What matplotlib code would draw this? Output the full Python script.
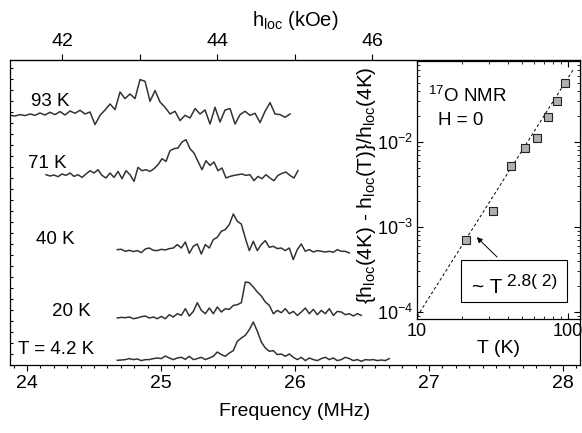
import numpy as np
import matplotlib
matplotlib.use("Agg")
import matplotlib.pyplot as plt
from matplotlib.ticker import MultipleLocator, FixedLocator, NullFormatter
from matplotlib.patches import Rectangle

plt.rcParams['font.family'] = ['Liberation Sans', 'DejaVu Sans']
plt.rcParams['mathtext.fontset'] = 'custom'
plt.rcParams['mathtext.rm'] = 'Liberation Sans'
plt.rcParams['mathtext.it'] = 'Liberation Sans:italic'
plt.rcParams['mathtext.sf'] = 'Liberation Sans'
plt.rcParams['mathtext.default'] = 'regular'

# 17O gyromagnetic ratio, MHz per kOe
GAMMA = 0.5777

# spectra: (label, first freq, last freq, intensity)
labels = ['93 K', '71 K', '40 K', '20 K', 'T = 4.2 K']
f_start = [23.873, 24.142, 24.674, 24.674, 24.674]
f_end = [25.963, 26.022, 26.405, 26.495, 26.704]

spec_93 = [0, -0.7, 0.7, -0.3, 1.3, 0, 2.3, 0.3, 3, 0.7,
           3.7, 0.3, 4.3, 2, 5, 1.3, 3.3, -9.3, 0, 5.3,
           11.3, 5.7, 23.3, 16.7, 21.3, 16.7, 35.7, 34, 14, 24.7,
           13.3, 8, 1.3, 4, -5.3, 0, -2.7, 6.7, 1.3, 5.3,
           -8.7, 8, -6.7, 5.3, 6.7, -8.7, 0.7, 4, 0, 2,
           -7.3, 4, 12.7, 1.3, 0.7, -2, 1.3]
spec_71 = [0, -1.3, -0.3, -2, 0.7, -0.7,
           1.7, -1.7, 0, -2.7, 0.7, 4, 1.7, 5, -0.7, -3.3,
           1.7, -2.7, 3.3, -4, 4, 0, -6.7, 7.3, 4, 5,
           3.3, 6, 10, 16, 13.3, 24, 26, 26.7, 32.7, 35,
           26, 21.7, 13.3, 5, 14, 9.3, 12.7, 4, 6.7, -3.3,
           -1.7, -0.7, 0, 0.7, -0.7, 0, -6, -1.7, -4, 0,
           -3.3, -6, -0.7, 1.3, 2.7, -0.7, -3.3, 4]
spec_40 = [0.7, 1, -1, 0, -1.3, -0.3, -2.3, 1.3, 2.3, 0,
           -0.3, 1, 0.3, 1.7, 2.3, 5.7, 2.3, 8.3, -3, 4,
           6.3, -3.7, 5.7, 2.3, 10.7, 13, 19, 20.7, 25.7, 36.3,
           29, 26.3, 12.3, -0.3, 9, -0.3, 5.7, 9.7, 3, 4,
           1.7, 2.3, -0.3, 2.3, -9.3, 0.7, 6.3, -1, 0.7, -1.7,
           -0.3, -1, -1.7, -1, -2, 0.7, -1, -1, -2.7]
spec_20 = [-0.3, 0.3, 0, 0.7, -1, -0.3, 1, 1.7, -0.3, 0.7,
           -1, 1.3, -1, 3, 0.7, 4, 2.3, 9, 1.7, 6.3,
           15, 7.3, 4, 9.7, 4, 10.7, 5.7, 9, 8.3, 12.3,
           13, 15, 35.7, 35, 30.7, 25.7, 21.7, 15.7, 12.3, 4,
           7.3, 5, 9, 4, 6.3, 2.3, 5.7, 9.7, 4, 8.3,
           3, 7.3, 4, 9, 2.3, 6.3, 5.7, 3, 4, 1.7,
           4, 2.3]
spec_4 = [0, 0.3, 0.7, 1.7, 0.7, 1.3, -0.3, 0.7, 0.7, 1.7,
          2.3, 1.7, 4.3, 2.3, 0.7, 2.3, 3, 1, 4, 0.7,
          1.7, 3, 0.7, 2.3, 4, 8.3, 5.7, 4, 7.3, 9.7,
          19, 22.3, 25, 30.7, 38.3, 29, 18.3, 12.3, 9, 9.7,
          5.7, 6.3, 4, 6.3, 3, 0.7, 3, -0.3, 2.3, 0.7,
          -0.3, 1.7, 3, 0.7, 2.3, -0.3, 0.7, 3, 1.7, -0.3,
          0.7, -1, 0.7, 0.3, 0.7, -0.3, 0.3, -0.3, 1.7]
spectra = [spec_93, spec_71, spec_40, spec_20, spec_4]

# inset: relative shift of the local field vs T
T_K = [21.3, 31.8, 42.1, 52.4, 62.7, 74.5, 85.5, 95.8]
dh = [7.0e-4, 1.53e-3, 5.26e-3, 8.57e-3, 1.11e-2, 1.97e-2, 3.01e-2, 4.99e-2]
fit_exp = 2.8
fit_T0, fit_y0 = 10.46, 1.0e-4

# layout (vertical offsets of the stacked spectra, label positions)
offsets = [249.7, 190.3, 114.7, 47.3, 4.7]
label_pos = [(24.17, 263), (24.15, 202), (24.21, 125), (24.33, 54), (24.22, 15)]

fig = plt.figure(figsize=(5.82, 4.33), dpi=100)
ax = fig.add_axes([10 / 582, 68 / 433, 570 / 582, 305 / 433])

for lab, fs, fe, sp, off, pos in zip(labels, f_start, f_end, spectra, offsets, label_pos):
    f = np.linspace(fs, fe, len(sp))
    ax.plot(f, np.array(sp) + off, color='#333333', lw=1.1)
    ax.text(pos[0], pos[1], lab, fontsize=13.5, ha='center', va='center')

ax.set_xlim(23.873, 28.127)
ax.set_ylim(0, 305)
ax.xaxis.set_major_locator(MultipleLocator(1))
ax.xaxis.set_minor_locator(MultipleLocator(0.1))
ax.tick_params(axis='x', which='major', direction='out', length=4, width=0.8, labelsize=14, pad=3)
ax.tick_params(axis='x', which='minor', direction='out', length=2.5, width=0.8)
ax.yaxis.set_major_locator(MultipleLocator(11))
ax.tick_params(axis='y', direction='in', length=2.5, width=0.8, labelleft=False)
ax.set_xlabel('Frequency (MHz)', fontsize=14, labelpad=8)
for s in ax.spines.values():
    s.set_linewidth(0.9)

top = ax.secondary_xaxis('top', functions=(lambda fr: fr / GAMMA, lambda h: h * GAMMA))
top.xaxis.set_major_locator(FixedLocator([42, 44, 46]))
top.xaxis.set_minor_locator(FixedLocator([43, 45]))
top.tick_params(which='both', direction='out', length=4, width=0.8, labelsize=14, pad=3)
top.set_xlabel('h$_{loc}$ (kOe)', fontsize=14.5, labelpad=5)

# inset
ins = fig.add_axes([417 / 582, 114 / 433, 163 / 582, 258 / 433])
ins.set_xscale('log')
ins.set_yscale('log')
ins.set_xlim(10, 121)
ins.set_ylim(8.27e-5, 0.0897)
Tf = np.array([10, 110])
ins.plot(Tf, fit_y0 * (Tf / fit_T0) ** fit_exp, 'k--', lw=0.7, dashes=(3, 2.5))
ins.plot(T_K, dh, 's', ms=5.2, mfc='#b0b0b0', mec='#222222', mew=0.8)
ins.set_xticks([10, 100])
ins.set_xticklabels(['10', '100'])
ins.xaxis.set_minor_formatter(NullFormatter())
ins.tick_params(which='major', direction='in', length=4, width=0.8, top=True, right=True,
                labelsize=13, pad=3)
ins.tick_params(which='minor', direction='in', length=2, width=0.6, top=True, right=True)
ins.set_xlabel('T (K)', fontsize=14, labelpad=0)
for s in ins.spines.values():
    s.set_linewidth(0.9)
fig.text(367 / 582, 248 / 433, '{h$_{loc}$(4K) - h$_{loc}$(T)}/h$_{loc}$(4K)',
         rotation=90, ha='center', va='center', fontsize=15)

ins.text(0.067, 0.841, '$^{17}$O NMR', transform=ins.transAxes, fontsize=13.5, va='baseline')
ins.text(0.129, 0.752, 'H = 0', transform=ins.transAxes, fontsize=13.5, va='baseline')

ins.add_patch(Rectangle((0.27, 0.066), 0.65, 0.163, transform=ins.transAxes,
                        facecolor='white', edgecolor='k', lw=0.8, zorder=3))
ins.text(0.336, 0.101, '~ T', transform=ins.transAxes, fontsize=15, va='baseline', zorder=4)
ins.text(0.55, 0.128, '2.8( 2)', transform=ins.transAxes, fontsize=12.5, va='baseline', zorder=4)
ins.annotate('', xy=(24.2, 8.0e-4), xytext=(35.1, 4.2e-4),
             arrowprops=dict(arrowstyle='-|>', color='k', lw=0.7, mutation_scale=8))

fig.savefig('out.png', dpi=100)
